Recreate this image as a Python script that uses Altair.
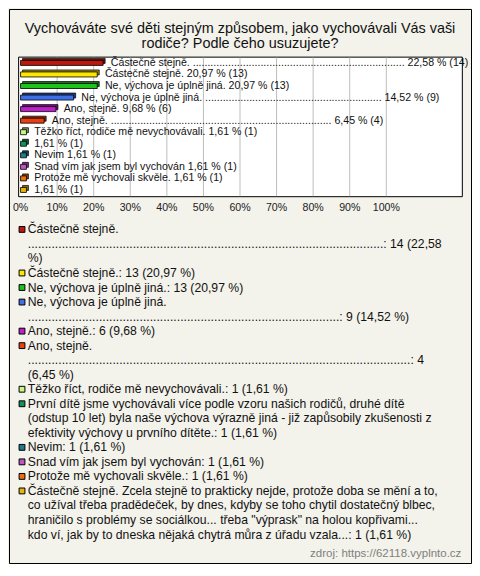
import altair as alt
import pandas as pd

# ---------------- data ----------------
bar_pct = [22.58, 20.97, 20.97, 14.52, 9.68, 6.45, 1.61, 1.61, 1.61, 1.61, 1.61, 1.61]
bar_counts = [14, 13, 13, 9, 6, 4, 1, 1, 1, 1, 1, 1]
bar_names = [
    "Částečně stejně. " + "." * 72,
    "Částečně stejně.",
    "Ne, výchova je úplně jiná.",
    "Ne, výchova je úplně jiná. " + "." * 60,
    "Ano, stejně.",
    "Ano, stejně. " + "." * 75,
    "Těžko říct, rodiče mě nevychovávali.",
    "",
    "Nevim",
    "Snad vím jak jsem byl vychován",
    "Protože mě vychovali skvěle.",
    "",
]
bar_colors = ["#C0160B", "#FFE600", "#1DC21D", "#3F6FE6", "#BE1FC8", "#E8400E",
              "#C8F585", "#12905A", "#1F7A8C", "#C055C0", "#E8700E", "#E8B30E"]
tick_values = [0, 10, 20, 30, 40, 50, 60, 70, 80, 90, 100]
grid_values = [10, 20, 30, 40, 50, 60, 70, 80, 90, 100]
legend_entries = [
    ["Částečně stejně.", "." * 105 + ": 14 (22,58", "%)"],
    ["Částečně stejně.: 13 (20,97 %)"],
    ["Ne, výchova je úplně jiná.: 13 (20,97 %)"],
    ["Ne, výchova je úplně jiná.", "." * 92 + ": 9 (14,52 %)"],
    ["Ano, stejně.: 6 (9,68 %)"],
    ["Ano, stejně.", "." * 113 + ": 4", "(6,45 %)"],
    ["Těžko říct, rodiče mě nevychovávali.: 1 (1,61 %)"],
    ["První dítě jsme vychovávali více podle vzoru našich rodičů, druhé dítě",
     "(odstup 10 let) byla naše výchova výrazně jiná - již zapůsobily zkušenosti z",
     "efektivity výchovy u prvního dítěte.: 1 (1,61 %)"],
    ["Nevim: 1 (1,61 %)"],
    ["Snad vím jak jsem byl vychován: 1 (1,61 %)"],
    ["Protože mě vychovali skvěle.: 1 (1,61 %)"],
    ["Částečně stejně. Zcela stejně to prakticky nejde, protože doba se mění a to,",
     "co užíval třeba pradědeček, by dnes, kdyby se toho chytil dostatečný blbec,",
     "hraničilo s problémy se sociálkou... třeba \"výprask\" na holou kopřivami...",
     "kdo ví, jak by to dneska nějaká chytrá můra z úřadu vzala...: 1 (1,61 %)"],
]
title_lines = ["Vychováváte své děti stejným způsobem, jako vychovávali Vás vaši",
               "rodiče? Podle čeho usuzujete?"]
source_text = "zdroj: https://62118.vyplnto.cz"

# ---------------- layout helpers ----------------
W, H = 462, 554
S = W / 480.0
FONT = "Liberation Sans"


def px(v):
    return v * S


def darken(hex_color, f=0.6):
    h = hex_color.lstrip("#")
    r, g, b = (int(h[i:i + 2], 16) for i in (0, 2, 4))
    return "#%02x%02x%02x" % (int(r * f), int(g * f), int(b * f))


def fmt_pct(v):
    return ("%.2f" % v).replace(".", ",") + " %"


bars = pd.DataFrame({
    "row": list(range(len(bar_pct))),
    "pct": bar_pct,
    "color": bar_colors,
    "back": [darken(c) for c in bar_colors],
    "label": [(n + " " if n else "") + fmt_pct(p) + " (%d)" % c
              for n, p, c in zip(bar_names, bar_pct, bar_counts)],
})

ticks = pd.DataFrame({"value": tick_values, "label": ["%d%%" % t for t in tick_values]})
grid = pd.DataFrame({"value": grid_values})

rows = []
line = 0
for i, entry in enumerate(legend_entries):
    for j, t in enumerate(entry):
        rows.append({"line": line, "text": t, "first": j == 0, "color": bar_colors[i]})
        line += 1
legend = pd.DataFrame(rows)
n_lines = line

x_scale = alt.Scale(domain=[0, 100], range=[px(12), px(392)], nice=False, zero=True)
y_bar_scale = alt.Scale(domain=list(range(len(bar_pct))), range=[px(50), px(194)],
                        paddingInner=0, paddingOuter=0)
y_leg_scale = alt.Scale(domain=[0, n_lines - 1], range=[px(229), px(546)], nice=False, zero=False)

one = alt.Data(values=[{"a": 1}])

title1 = alt.Chart(one).mark_text(font=FONT, fontSize=14.4, align="center", baseline="middle",
                                  color="#111").encode(
    x=alt.value(W / 2), y=alt.value(px(21)), text=alt.value(title_lines[0]))
title2 = alt.Chart(one).mark_text(font=FONT, fontSize=14.4, align="center", baseline="middle",
                                  color="#111").encode(
    x=alt.value(W / 2), y=alt.value(px(36.5)), text=alt.value(title_lines[1]))

frame = alt.Chart(one).mark_rect(fill="white", stroke="black", strokeWidth=1).encode(
    x=alt.value(px(10)), x2=alt.value(px(471)), y=alt.value(px(50)), y2=alt.value(px(195)))

gridlines = alt.Chart(grid).mark_rule(color="#BDBDBD", strokeWidth=1).encode(
    x=alt.X("value:Q", scale=x_scale, axis=None),
    y=alt.value(px(50.5)), y2=alt.value(px(194.5)))

bar_back = alt.Chart(bars).mark_bar(height=5, xOffset=2, yOffset=-2, stroke="black",
                                    strokeWidth=0.7).encode(
    x=alt.X("pct:Q", scale=x_scale, axis=None),
    y=alt.Y("row:O", scale=y_bar_scale, axis=None),
    fill=alt.Fill("back:N", scale=None))

bar_front = alt.Chart(bars).mark_bar(height=5, stroke="black", strokeWidth=0.8).encode(
    x=alt.X("pct:Q", scale=x_scale, axis=None),
    y=alt.Y("row:O", scale=y_bar_scale, axis=None),
    fill=alt.Fill("color:N", scale=None))

bar_text = alt.Chart(bars).mark_text(font=FONT, fontSize=10.6, align="left", baseline="middle",
                                     dx=px(8), color="#111").encode(
    x=alt.X("pct:Q", scale=x_scale, axis=None),
    y=alt.Y("row:O", scale=y_bar_scale, axis=None),
    text="label:N")

tick_text = alt.Chart(ticks).mark_text(font=FONT, fontSize=10.6, align="center",
                                       baseline="middle", color="#222").encode(
    x=alt.X("value:Q", scale=x_scale, axis=None),
    y=alt.value(px(207)),
    text="label:N")

leg_sq = alt.Chart(legend).transform_filter("datum.first").mark_square(
    size=34, filled=True, stroke="black", strokeWidth=1, opacity=1).encode(
    x=alt.value(px(13.5)),
    y=alt.Y("line:Q", scale=y_leg_scale, axis=None),
    fill=alt.Fill("color:N", scale=None))

leg_text = alt.Chart(legend).mark_text(font=FONT, fontSize=12.2, align="left",
                                       baseline="middle", color="#111").encode(
    x=alt.value(px(19.5)),
    y=alt.Y("line:Q", scale=y_leg_scale, axis=None),
    text="text:N")

source = alt.Chart(one).mark_text(font=FONT, fontSize=11.5, align="right", baseline="middle",
                                  color="#808080").encode(
    x=alt.value(px(470)), y=alt.value(px(566)), text=alt.value(source_text))

chart = alt.layer(
    frame, gridlines, bar_back, bar_front, bar_text, tick_text,
    leg_sq, leg_text, title1, title2, source
).resolve_scale(y="independent").properties(
    width=W, height=H, padding=1, autosize=alt.AutoSizeParams(type="none"),
    background="#F3F2EB"
).configure_view(stroke="black", strokeWidth=1)

chart.save("out.html", embed_options={"renderer": "svg", "actions": False})
